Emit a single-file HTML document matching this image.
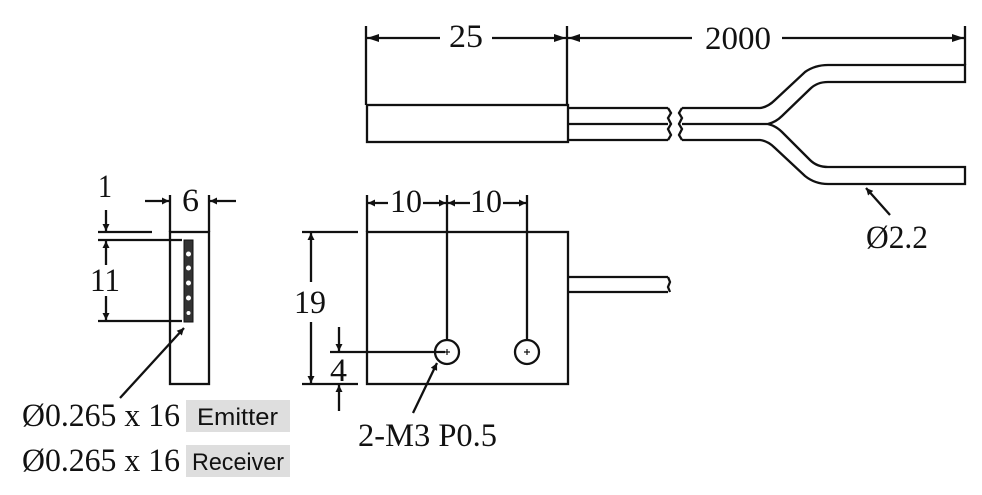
<!DOCTYPE html>
<html><head><style>
html,body{margin:0;padding:0;background:#fff;}
svg{display:block;}
text{font-family:"Liberation Serif",serif;fill:#111;}
.s{font-family:"Liberation Sans",sans-serif;}
</style></head><body>
<svg width="982" height="495" viewBox="0 0 982 495" xmlns="http://www.w3.org/2000/svg">
<defs>
<marker id="a" viewBox="0 0 10 10" refX="10" refY="5" markerWidth="10" markerHeight="7" orient="auto-start-reverse" markerUnits="userSpaceOnUse"><path d="M0,0 L10,5 L0,10 z" fill="#111"/></marker>
<marker id="b" viewBox="0 0 12 8" refX="12" refY="4" markerWidth="14" markerHeight="8" orient="auto-start-reverse" markerUnits="userSpaceOnUse"><path d="M0,0 L12,4 L0,8 z" fill="#111"/></marker>
</defs>
<g stroke="#111" stroke-width="2.3" fill="none">
<line x1="366" y1="26" x2="366" y2="105"/>
<line x1="567" y1="26" x2="567" y2="105"/>
<line x1="965" y1="26" x2="965" y2="65"/>
<line x1="367" y1="38" x2="440" y2="38" marker-start="url(#b)"/>
<line x1="492" y1="38" x2="566" y2="38" marker-end="url(#b)"/>
<line x1="568" y1="38" x2="692" y2="38" marker-start="url(#b)"/>
<line x1="782" y1="38" x2="964" y2="38" marker-end="url(#b)"/>
<rect x="367" y="105" width="201" height="37"/>
<path d="M568,108 H668 M568,124 H668 M568,140 H668"/>
<path d="M668,108 l3,5 -3,5 3,6 -3,5 3,6 -3,5"/>
<path d="M682,108 l-3,5 3,5 -3,6 3,5 -3,6 3,5"/>
<path d="M682,108 H760 Q768,107 775,100 L805,72 Q815,65 828,65 H965 V82 H828 Q817,82 810,89 L782,116 Q776,122 768,124 H682"/>
<path d="M682,140 H760 Q768,141 775,148 L805,176 Q815,184 828,184 H965 V167 H828 Q817,167 810,160 L782,132 Q776,126 768,124"/>
<line x1="890" y1="215" x2="866" y2="188" marker-end="url(#a)"/>
<rect x="170" y="232" width="39" height="152"/>
<line x1="170" y1="195" x2="170" y2="232"/>
<line x1="209" y1="195" x2="209" y2="232"/>
<line x1="145" y1="201" x2="169" y2="201" marker-end="url(#a)"/>
<line x1="236" y1="201" x2="210" y2="201" marker-end="url(#a)"/>
<line x1="98" y1="232" x2="152" y2="232"/>
<line x1="98" y1="240" x2="182" y2="240"/>
<line x1="98" y1="321" x2="182" y2="321"/>
<line x1="106" y1="210" x2="106" y2="231" marker-end="url(#a)"/>
<line x1="106" y1="265" x2="106" y2="241" marker-end="url(#a)"/>
<line x1="106" y1="296" x2="106" y2="320" marker-end="url(#a)"/>
<line x1="120" y1="398" x2="184" y2="328" marker-end="url(#a)"/>
</g>
<rect x="184" y="240" width="9" height="82" fill="#333" stroke="#111" stroke-width="1"/>
<g fill="#fff"><circle cx="188.5" cy="254" r="2.5"/><circle cx="188.5" cy="268" r="2.5"/><circle cx="188.5" cy="283" r="2.5"/><circle cx="188.5" cy="298" r="2.5"/><circle cx="188.5" cy="313" r="2"/></g>
<g stroke="#111" stroke-width="2.3" fill="none">
<rect x="367" y="232" width="201" height="152"/>
<path d="M568,277 H668 M568,292 H668"/>
<path d="M668,277 l2,5 -2,5 2,5"/>
<line x1="367" y1="195" x2="367" y2="232"/>
<line x1="447" y1="195" x2="447" y2="340"/>
<line x1="527" y1="195" x2="527" y2="340"/>
<line x1="368" y1="203" x2="388" y2="203" marker-start="url(#a)"/>
<line x1="423" y1="203" x2="446" y2="203" marker-end="url(#a)"/>
<line x1="448" y1="203" x2="470" y2="203" marker-start="url(#a)"/>
<line x1="503" y1="203" x2="526" y2="203" marker-end="url(#a)"/>
<circle cx="447" cy="352" r="12"/>
<circle cx="527" cy="352" r="12"/>
<line x1="302" y1="232" x2="358" y2="232"/>
<line x1="302" y1="384" x2="358" y2="384"/>
<line x1="330" y1="352" x2="445" y2="352"/>
<line x1="311" y1="282" x2="311" y2="233" marker-end="url(#a)"/>
<line x1="311" y1="322" x2="311" y2="383" marker-end="url(#a)"/>
<line x1="339" y1="327" x2="339" y2="351" marker-end="url(#a)"/>
<line x1="339" y1="411" x2="339" y2="385" marker-end="url(#a)"/>
<line x1="413" y1="413" x2="437" y2="363" marker-end="url(#a)"/>
</g>
<g stroke="#111" stroke-width="1.2"><path d="M444,352 h6 M447,349 v6 M524,352 h6 M527,349 v6"/></g>
<g font-size="33">
<text x="449" y="47" textLength="34" lengthAdjust="spacingAndGlyphs">25</text>
<text x="705" y="49" textLength="66" lengthAdjust="spacingAndGlyphs">2000</text>
<text x="866" y="248" textLength="62" lengthAdjust="spacingAndGlyphs">Ø2.2</text>
<text x="182" y="211" textLength="17" lengthAdjust="spacingAndGlyphs">6</text>
<text x="98" y="197" textLength="14" lengthAdjust="spacingAndGlyphs">1</text>
<text x="90" y="291" textLength="30" lengthAdjust="spacingAndGlyphs">11</text>
<text x="390" y="212" textLength="32" lengthAdjust="spacingAndGlyphs">10</text>
<text x="470" y="212" textLength="32" lengthAdjust="spacingAndGlyphs">10</text>
<text x="294" y="313" textLength="32" lengthAdjust="spacingAndGlyphs">19</text>
<text x="330" y="381" textLength="17" lengthAdjust="spacingAndGlyphs">4</text>
<text x="358" y="446" textLength="139" lengthAdjust="spacingAndGlyphs">2-M3 P0.5</text>
<text x="22" y="426" textLength="158" lengthAdjust="spacingAndGlyphs">Ø0.265 x 16</text>
<text x="22" y="471" textLength="158" lengthAdjust="spacingAndGlyphs">Ø0.265 x 16</text>
</g>
<rect x="186" y="400" width="104" height="32" fill="#dedede"/>
<rect x="186" y="445" width="104" height="32" fill="#dedede"/>
<text class="s" x="197" y="425" font-size="24" textLength="81" lengthAdjust="spacingAndGlyphs">Emitter</text>
<text class="s" x="192" y="470" font-size="24" textLength="92" lengthAdjust="spacingAndGlyphs">Receiver</text>
</svg>
</body></html>
